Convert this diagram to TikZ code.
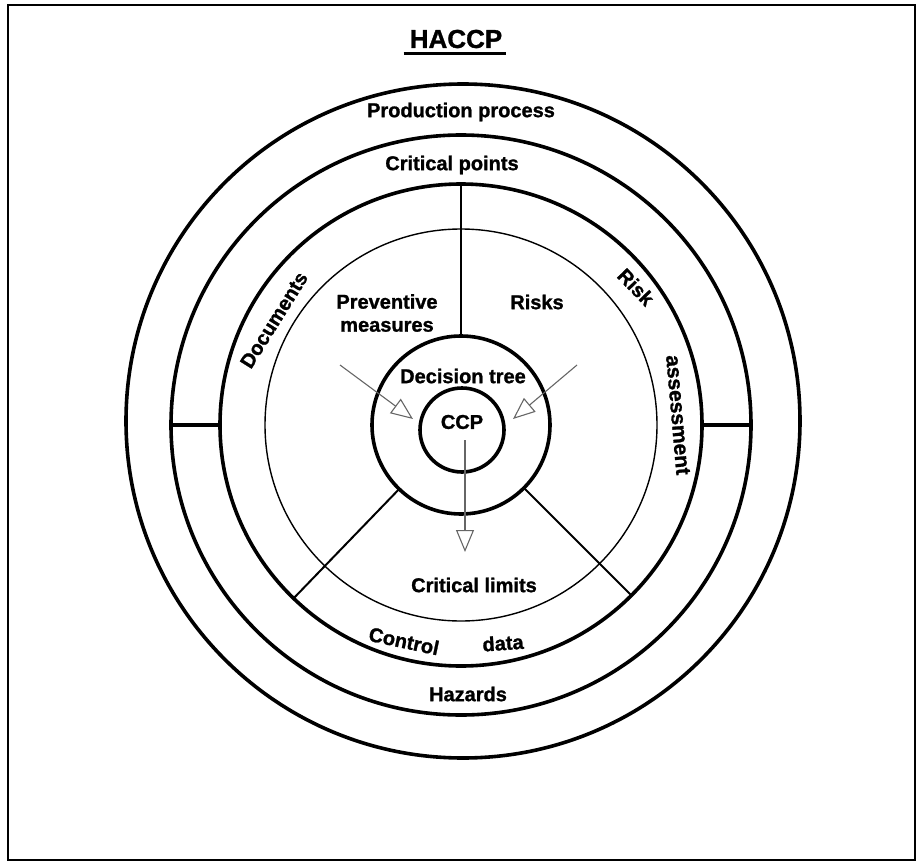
\documentclass[tikz,border=0pt]{standalone}
\usepackage{fontspec}
\setmainfont{Liberation Sans}[BoldFeatures={FakeBold=1.2}]
\usetikzlibrary{arrows.meta,calc}
\begin{document}
\begin{tikzpicture}[x=1pt,y=-1pt,
  ring/.style={circle, draw, line width=3.6pt, inner sep=0pt, outer sep=0pt},
  thinring/.style={circle, draw, line width=1.4pt, inner sep=0pt, outer sep=0pt},
  lbl/.style={font=\bfseries\fontsize{20}{23}\selectfont, inner sep=0pt},
  spoke/.style={line width=2pt},
  tick/.style={line width=3.6pt},
  flow/.style={draw=black!60, line width=1.1pt,
    -{Triangle[open, length=22pt, width=18pt, line width=1.1pt]}},
]
\useasboundingbox (0,0) rectangle (919,862);

% outer frame
\node[draw, line width=1.8pt, minimum width=907pt, minimum height=855pt,
      inner sep=0pt, outer sep=0pt, anchor=north west] (frame) at (8,5) {};

% title
\node[font=\bfseries\fontsize{26}{30}\selectfont, inner sep=0pt] (title) at (456,39) {HACCP};
\draw[line width=3pt] ($(title.south west)+(-6,5)$) coordinate (ulA) -- ($(title.south east)+(4,5)$) coordinate (ulB);

% concentric rings
\coordinate (o) at (461,425);
\node[ring, minimum size=674pt] (c1) at (463,421) {};
\node[ring, minimum size=580pt] (c2) at (o) {};
\node[ring, minimum size=482pt] (c3) at (o) {};
\node[thinring, minimum size=392pt] (c4) at (o) {};
\node[ring, minimum size=178pt] (c5) at (o) {};
\node[ring, minimum size=84pt] (c6) at (462,430) {};

% dividers
\draw[line width=2.4pt] (c3.90) -- (c5.90);
\draw[tick] (c2.180) -- (c3.180);
\draw[tick] (c3.0) -- (c2.0);
\draw[spoke] (c5.226) -- (c3.226);
\draw[spoke] (c5.315) -- (c3.315);

% arrows towards / from CCP
\coordinate (aL) at (340,365);
\coordinate (aLtip) at (413,419);
\coordinate (aR) at (577,365);
\coordinate (aRtip) at (513,419);
\coordinate (aD) at (465,440);
\coordinate (aDtip) at (465,552);
\draw[flow] (aL) -- (aLtip);
\draw[flow] (aR) -- (aRtip);
\draw[flow] (aD) -- (aDtip);

% labels
\node[lbl] (prod) at (461,112) {Production process};
\node[lbl] (crit) at (452,165) {Critical points};
\node[lbl, align=center] (prev) at (387,313) {Preventive\\measures};
\node[lbl] (risks) at (537,302) {Risks};
\node[lbl] (dtree) at (463,376) {Decision tree};
\node[lbl] (ccp) at (462,422) {CCP};
\node[lbl] (climits) at (474,585) {Critical limits};
\node[lbl, rotate=-12] (control) at (404,641) {Control};
\node[lbl, rotate=4] (data) at (503,643) {data};
\node[lbl] (hazards) at (468,694) {Hazards};
\node[lbl, rotate=58] (docs) at (274,320) {Documents};
\node[lbl, rotate=-46] (risk) at (636,287) {Risk};
\node[lbl, rotate=-85, font=\bfseries\fontsize{21}{24}\selectfont] (assess) at (678,415) {assessment};
\end{tikzpicture}
\end{document}
